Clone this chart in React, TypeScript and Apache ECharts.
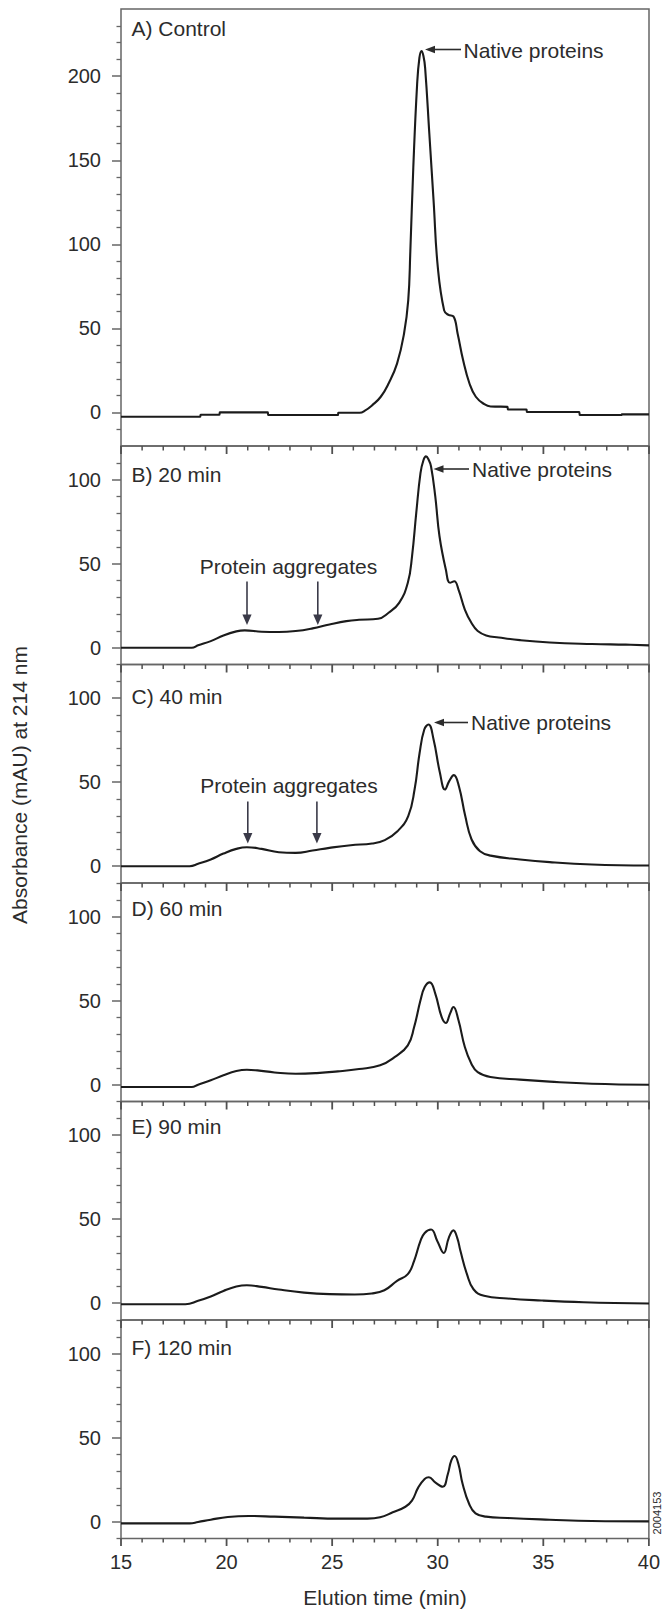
import React, { useEffect, useRef } from "react";
import * as echarts from "echarts";

// ---- Data (elution time in min, absorbance in mAU) ----
const timeA = [15.0, 18.75, 18.77, 19.66, 19.68, 21.95, 21.97, 25.27, 25.29, 26.3, 26.55, 26.9, 27.3, 27.67, 28.07, 28.4, 28.6, 28.7, 28.84, 29.02, 29.13, 29.23, 29.32, 29.4, 29.6, 29.8, 30.0, 30.3, 30.5, 30.74, 30.94, 31.2, 31.5, 31.8, 32.2, 32.5, 33.3, 33.32, 34.2, 34.22, 36.7, 36.72, 38.7, 38.72, 40.0];
const absA = [-2.6, -2.6, -1.4, -1.4, 0, 0, -1.6, -1.6, -0.2, -0.2, 1.0, 4.3, 9.3, 17.2, 29, 46.8, 66.6, 96, 145.7, 195, 211, 215, 212, 205, 165.6, 126, 86.4, 60.7, 58, 57.1, 46.8, 31, 17.2, 9.3, 4.9, 3.5, 3.3, 1.7, 1.7, 0.2, 0.2, -1.6, -1.6, -1.2, -1.2];

const timeB = [15, 18.35, 18.65, 19.25, 19.85, 20.46, 20.86, 21.66, 22.47, 23.27, 24.07, 24.87, 25.67, 26.27, 27.17, 27.67, 28.17, 28.58, 28.78, 28.98, 29.18, 29.32, 29.44, 29.56, 29.68, 29.88, 30.08, 30.38, 30.58, 30.78, 30.98, 31.28, 31.59, 31.89, 32.29, 32.89, 33.89, 35.3, 37.3, 38.9, 40];
const absB = [0, 0, 1.4, 3.9, 7.3, 9.7, 10.3, 9.5, 9.3, 9.9, 11.5, 13.8, 15.8, 16.6, 17.2, 20.8, 26.7, 38.6, 54.4, 80.2, 103.9, 111.5, 113.8, 112, 107.8, 90, 66.3, 46.5, 38.6, 39.5, 34.6, 22.7, 14.8, 9.9, 7.3, 6.1, 4.5, 3.1, 2.2, 1.8, 1.4];

const timeC = [15, 18.25, 18.65, 19.25, 19.85, 20.46, 20.96, 21.66, 22.47, 23.27, 24.07, 24.87, 25.88, 26.89, 27.49, 28.09, 28.6, 28.9, 29.14, 29.36, 29.56, 29.8, 30.1, 30.34, 30.54, 30.76, 31.0, 31.3, 31.6, 32.0, 32.5, 33.9, 35.3, 37.3, 40];
const absC = [0, 0, 1.4, 4.0, 7.5, 10.3, 11.3, 10.3, 8.3, 7.9, 9.3, 10.9, 12.5, 13.5, 15.5, 20.8, 29.8, 45.6, 67.5, 81.3, 84.3, 75.4, 55.6, 45.6, 50.6, 54.2, 47.6, 29.8, 15.9, 8.9, 6.3, 4.0, 2.4, 1.0, 0.4];

const timeD = [15, 18.35, 18.65, 19.25, 19.85, 20.46, 20.96, 21.46, 22.27, 23.27, 24.27, 25.27, 26.27, 27.27, 27.97, 28.58, 28.88, 29.18, 29.38, 29.62, 29.88, 30.18, 30.38, 30.58, 30.74, 30.98, 31.28, 31.59, 31.89, 32.49, 33.89, 35.3, 37.3, 40];
const absD = [-1.4, -1.4, 0, 2.6, 5.6, 8.1, 8.9, 8.5, 7.3, 6.5, 6.9, 7.9, 9.3, 11.5, 16.5, 23.4, 34.3, 50.2, 58.1, 60.9, 54.2, 40.3, 36.7, 42.3, 46.2, 38.3, 22.4, 12.5, 7.5, 4.6, 3.0, 1.8, 0.6, 0];

const timeE = [15, 18.05, 18.65, 19.25, 19.85, 20.46, 20.96, 21.66, 22.47, 23.67, 24.87, 26.07, 26.87, 27.47, 28.07, 28.58, 28.88, 29.18, 29.38, 29.68, 29.98, 30.28, 30.52, 30.74, 30.92, 31.07, 31.38, 31.69, 32.19, 33.3, 34.9, 36.9, 40];
const absE = [-0.6, -0.6, 1.4, 4.0, 7.3, 9.9, 10.7, 9.7, 8.1, 6.3, 5.4, 5.2, 5.8, 7.7, 13.3, 17.3, 25.2, 37.1, 41.8, 43.8, 36.9, 29.9, 38.9, 43.3, 38.9, 31.2, 17.3, 8.3, 4.4, 2.8, 1.6, 0.6, -0.2];

const timeF = [15, 18.25, 18.65, 19.25, 20.06, 21.06, 22.27, 23.67, 25.27, 26.67, 27.27, 27.87, 28.47, 28.78, 29.08, 29.38, 29.58, 29.88, 30.24, 30.48, 30.64, 30.8, 30.98, 31.18, 31.49, 31.79, 32.29, 33.3, 35.3, 37.3, 40];
const absF = [-1.0, -1.0, -0.2, 1.2, 2.8, 3.4, 3.0, 2.4, 1.8, 1.8, 2.6, 5.6, 8.9, 12.5, 20.4, 25.4, 26.4, 23.4, 20.8, 28.4, 36.3, 39.1, 34.3, 22.4, 10.5, 5.0, 3.0, 2.2, 1.2, 0.4, 0.2];

const panelLabels = ["A) Control", "B) 20 min", "C) 40 min", "D) 60 min", "E) 90 min", "F) 120 min"];
const yRangeA = [-20, 240];
const yRangeOther = [-10, 120];
const yMajorA = [0, 50, 100, 150, 200];
const yMajorOther = [0, 50, 100];
const yMinorA = [-10, 10, 20, 30, 40, 60, 70, 80, 90, 110, 120, 130, 140, 160, 170, 180, 190, 210, 220, 230];
const yMinorOther = [-10, 10, 20, 30, 40, 60, 70, 80, 90, 110];
const xMajor = [15, 20, 25, 30, 35, 40];
const xMinor = [16, 17, 18, 19, 21, 22, 23, 24, 26, 27, 28, 29, 31, 32, 33, 34, 36, 37, 38, 39];
const xMin = 15;
const xMax = 40;

const xTitle = "Elution time (min)";
const yTitle = "Absorbance (mAU) at 214 nm";
const nativeLabel = "Native proteins";
const aggLabel = "Protein aggregates";
const figCode = "2004153";

// ---- Layout / style ----
const FONT = '"Liberation Sans", Arial, Helvetica, sans-serif';
const AXIS = "#666666";
const TICK = "#505050";
const INK = "#2c2c2c";
const CURVE = "#1b1b1b";
const LEFT = 121;
const WIDTH = 528;
const tops = [9, 446, 664.5, 883, 1101.5, 1320];
const heights = [437, 218.5, 218.5, 218.5, 218.5, 218.5];
const labelY = [28, 474.5, 696, 908.5, 1126, 1347.5];

const times = [timeA, timeB, timeC, timeD, timeE, timeF];
const values = [absA, absB, absC, absD, absE, absF];

function hArrow(tipX: number, y: number, tailX: number) {
  return [
    { type: "line", shape: { x1: tipX + 8, y1: y, x2: tailX, y2: y }, style: { stroke: INK, lineWidth: 1.6 }, z: 100 },
    { type: "polygon", shape: { points: [[tipX, y], [tipX + 10, y - 3.8], [tipX + 10, y + 3.8]] }, style: { fill: INK }, z: 100 },
  ];
}
function vArrow(x: number, topY: number, tipY: number) {
  return [
    { type: "line", shape: { x1: x, y1: topY, x2: x, y2: tipY - 8 }, style: { stroke: "#3a3a48", lineWidth: 1.6 }, z: 100 },
    { type: "polygon", shape: { points: [[x, tipY], [x - 4.6, tipY - 10.5], [x + 4.6, tipY - 10.5]] }, style: { fill: "#3a3a48" }, z: 100 },
  ];
}
function txt(text: string, x: number, y: number, align: string, size = 21, rotation = 0) {
  return {
    type: "text",
    x,
    y,
    rotation,
    z: 100,
    style: { text, fill: INK, fontSize: size, fontFamily: FONT, align, verticalAlign: "middle" },
  };
}

export default function App() {
  const ref = useRef<HTMLDivElement>(null);
  useEffect(() => {
    if (!ref.current) return;
    const chart = echarts.init(ref.current, null, { renderer: "svg" });

    const grid: any[] = [];
    const xAxis: any[] = [];
    const yAxis: any[] = [];
    const series: any[] = [];

    for (let i = 0; i < 6; i++) {
      const isA = i === 0;
      const isLast = i === 5;
      grid.push({
        left: LEFT,
        width: WIDTH,
        top: tops[i],
        height: heights[i],
        show: true,
        borderColor: AXIS,
        borderWidth: 1.5,
        backgroundColor: "transparent",
      });
      xAxis.push({
        type: "value",
        gridIndex: i,
        min: xMin,
        max: xMax,
        interval: 5,
        position: "bottom",
        axisLine: { show: false, onZero: false },
        splitLine: { show: false },
        axisTick: { show: false },
        axisLabel: { show: isLast, fontSize: 20, fontFamily: FONT, color: INK, margin: 13 },
      });

      const range = isA ? yRangeA : yRangeOther;
      const major = isA ? yMajorA : yMajorOther;
      const minor = isA ? yMinorA : yMinorOther;
      yAxis.push({
        type: "value",
        gridIndex: i,
        min: range[0],
        max: range[1],
        position: "left",
        axisLine: { show: false, onZero: false },
        splitLine: { show: false },
        axisTick: { show: true, length: 9, lineStyle: { color: AXIS, width: 1.5 }, customValues: major },
        axisLabel: { show: true, fontSize: 20, fontFamily: FONT, color: INK, margin: 20, customValues: major },
      });
      yAxis.push({
        type: "value",
        gridIndex: i,
        min: range[0],
        max: range[1],
        position: "left",
        axisLine: { show: false, onZero: false },
        splitLine: { show: false },
        axisTick: { show: true, length: 4.5, lineStyle: { color: AXIS, width: 1.3 }, customValues: minor },
        axisLabel: { show: false },
      });
      series.push({
        type: "line",
        xAxisIndex: i,
        yAxisIndex: 2 * i,
        data: times[i].map((t, k) => [t, values[i][k]]),
        showSymbol: false,
        smooth: 0.45,
        lineStyle: { color: CURVE, width: 2.1 },
        silent: true,
        z: 3,
      });
    }

    const graphic: any[] = [];
    panelLabels.forEach((l, i) => graphic.push(txt(l, 131.5, labelY[i], "left")));
    graphic.push(txt(nativeLabel, 463.5, 50, "left"));
    graphic.push(...hArrow(425, 49.5, 461));
    graphic.push(txt(nativeLabel, 472, 469, "left"));
    graphic.push(...hArrow(433.5, 469, 469));
    graphic.push(txt(nativeLabel, 471, 722.5, "left"));
    graphic.push(...hArrow(434, 722.5, 468));
    graphic.push(txt(aggLabel, 288.5, 566, "center"));
    graphic.push(...vArrow(247, 581.5, 625));
    graphic.push(...vArrow(317.8, 581.5, 625));
    graphic.push(txt(aggLabel, 289, 785, "center"));
    graphic.push(...vArrow(247.8, 801.5, 843.5));
    graphic.push(...vArrow(316.9, 801.5, 843.5));
    graphic.push(txt(xTitle, 385, 1597, "center"));
    graphic.push(txt(yTitle, 19, 785, "center", 21, Math.PI / 2));
    graphic.push(txt(figCode, 657, 1513, "center", 11, Math.PI / 2));

    chart.setOption({
      animation: false,
      backgroundColor: "#ffffff",
      grid,
      xAxis,
      yAxis,
      series,
      graphic,
    });

    // x-axis tick marks, positioned with the library's own axis scales
    const tickEls: any[] = [];
    const addTicks = (gi: number, yVal: number, majorLen: number, minorLen: number) => {
      let py = chart.convertToPixel({ yAxisIndex: 2 * gi } as any, yVal) as any;
      if (typeof py !== "number" || !isFinite(py)) {
        py = yVal === yRangeOther[0] ? tops[gi] + heights[gi] : tops[gi];
      }
      const put = (v: number, len: number, w: number) => {
        let px = chart.convertToPixel({ xAxisIndex: gi } as any, v) as any;
        if (typeof px !== "number" || !isFinite(px)) px = LEFT + ((v - xMin) / (xMax - xMin)) * WIDTH;
        tickEls.push({
          type: "line",
          z: 60,
          shape: { x1: px, y1: py, x2: px, y2: py + len },
          style: { stroke: TICK, lineWidth: w },
        });
      };
      xMajor.forEach((v) => put(v, majorLen, 1.8));
      xMinor.forEach((v) => put(v, minorLen, 1.5));
    };
    for (let i = 1; i < 6; i++) addTicks(i, yRangeOther[1], 8, 4.5);
    addTicks(5, yRangeOther[0], 7.5, 4);
    chart.setOption({ graphic: graphic.concat(tickEls) });

    return () => chart.dispose();
  }, []);
  return (
    <div
      ref={ref}
      style={{ position: "absolute", left: 0, top: 0, width: 663, height: 1610, background: "#fff" }}
    />
  );
}
